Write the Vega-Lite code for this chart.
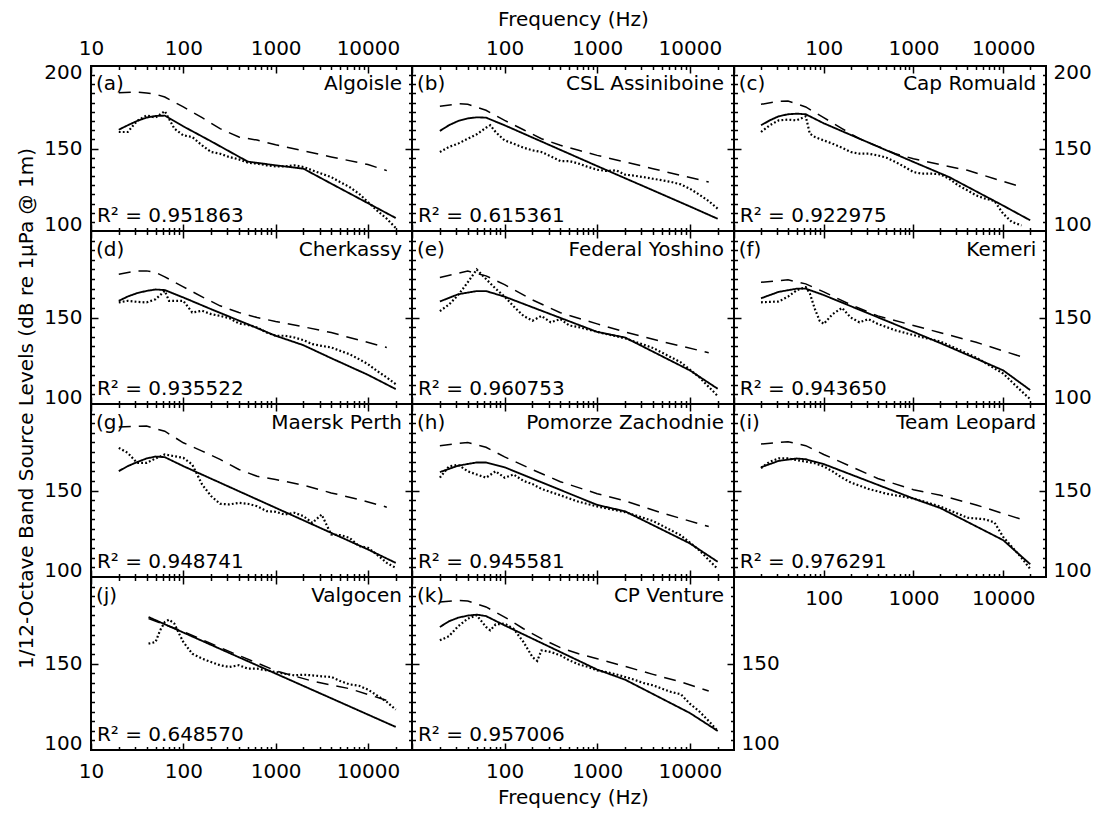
{
"$schema": "https://vega.github.io/schema/vega-lite/v6.json",
"background": "white",
"padding": {"left": 14, "top": 8, "right": 5, "bottom": 5},
"config": {
 "view": {"stroke": "black", "strokeWidth": 2},
 "axis": {"domain": false, "grid": false, "labelFont": "DejaVu Sans", "labelFontSize": 20, "labelColor": "black", "tickColor": "black", "tickWidth": 1.5, "titleFont": "DejaVu Sans", "titleFontSize": 20, "titleFontWeight": "normal", "titleColor": "black", "labelFlush": false, "labelOverlap": false, "labelBound": false},
 "text": {"font": "DejaVu Sans", "fontSize": 20, "color": "black"}
},
"datasets": {
 "info": [
  {"p":"a","tag":"(a)","name":"Algoisle","r2":"R² = 0.951863"},
  {"p":"b","tag":"(b)","name":"CSL Assiniboine","r2":"R² = 0.615361"},
  {"p":"c","tag":"(c)","name":"Cap Romuald","r2":"R² = 0.922975"},
  {"p":"d","tag":"(d)","name":"Cherkassy","r2":"R² = 0.935522"},
  {"p":"e","tag":"(e)","name":"Federal Yoshino","r2":"R² = 0.960753"},
  {"p":"f","tag":"(f)","name":"Kemeri","r2":"R² = 0.943650"},
  {"p":"g","tag":"(g)","name":"Maersk Perth","r2":"R² = 0.948741"},
  {"p":"h","tag":"(h)","name":"Pomorze Zachodnie","r2":"R² = 0.945581"},
  {"p":"i","tag":"(i)","name":"Team Leopard","r2":"R² = 0.976291"},
  {"p":"j","tag":"(j)","name":"Valgocen","r2":"R² = 0.648570"},
  {"p":"k","tag":"(k)","name":"CP Venture","r2":"R² = 0.957006"}
 ],
 "d": [
{"p":"a","s":"m","f":20,"L":160.8},{"p":"a","s":"m","f":25,"L":160.8},{"p":"a","s":"m","f":31.5,"L":168},{"p":"a","s":"m","f":40,"L":171.7},{"p":"a","s":"m","f":50,"L":170.2},{"p":"a","s":"m","f":63,"L":174.5},{"p":"a","s":"m","f":80,"L":163},{"p":"a","s":"m","f":100,"L":158.6},{"p":"a","s":"m","f":125,"L":157.5},{"p":"a","s":"m","f":160,"L":152},{"p":"a","s":"m","f":200,"L":147.7},{"p":"a","s":"m","f":250,"L":146.6},{"p":"a","s":"m","f":315,"L":144.4},{"p":"a","s":"m","f":400,"L":142.9},{"p":"a","s":"m","f":500,"L":140.7},{"p":"a","s":"m","f":630,"L":140.1},{"p":"a","s":"m","f":800,"L":139},{"p":"a","s":"m","f":1000,"L":138.3},{"p":"a","s":"m","f":1250,"L":138.3},{"p":"a","s":"m","f":1600,"L":139},{"p":"a","s":"m","f":2000,"L":137.9},{"p":"a","s":"m","f":2500,"L":135.7},{"p":"a","s":"m","f":3150,"L":133.5},{"p":"a","s":"m","f":4000,"L":131.3},{"p":"a","s":"m","f":5000,"L":128},{"p":"a","s":"m","f":6300,"L":124.8},{"p":"a","s":"m","f":8000,"L":120.4},{"p":"a","s":"m","f":10000,"L":115},{"p":"a","s":"m","f":12500,"L":109.5},{"p":"a","s":"m","f":16000,"L":104},{"p":"a","s":"m","f":20000,"L":98},
{"p":"a","s":"s","f":20,"L":162.3},{"p":"a","s":"s","f":25,"L":165.2},{"p":"a","s":"s","f":31.5,"L":168},{"p":"a","s":"s","f":40,"L":170.2},{"p":"a","s":"s","f":50,"L":171.3},{"p":"a","s":"s","f":63,"L":171.5},{"p":"a","s":"s","f":100,"L":164.5},{"p":"a","s":"s","f":200,"L":154.7},{"p":"a","s":"s","f":500,"L":141.4},{"p":"a","s":"s","f":1000,"L":139},{"p":"a","s":"s","f":2000,"L":136.8},{"p":"a","s":"s","f":4000,"L":127},{"p":"a","s":"s","f":10000,"L":114.2},{"p":"a","s":"s","f":20000,"L":104.5},
{"p":"a","s":"d","f":20,"L":186.5},{"p":"a","s":"d","f":31.5,"L":187},{"p":"a","s":"d","f":40,"L":186.3},{"p":"a","s":"d","f":50,"L":185.5},{"p":"a","s":"d","f":63,"L":183.7},{"p":"a","s":"d","f":100,"L":177.2},{"p":"a","s":"d","f":160,"L":170.2},{"p":"a","s":"d","f":250,"L":163},{"p":"a","s":"d","f":400,"L":157.5},{"p":"a","s":"d","f":630,"L":155.5},{"p":"a","s":"d","f":1000,"L":152.5},{"p":"a","s":"d","f":2000,"L":148.5},{"p":"a","s":"d","f":4000,"L":144.5},{"p":"a","s":"d","f":10000,"L":139.5},{"p":"a","s":"d","f":16000,"L":135.5},
{"p":"b","s":"m","f":20,"L":147.7},{"p":"b","s":"m","f":25,"L":151},{"p":"b","s":"m","f":31.5,"L":153.2},{"p":"b","s":"m","f":40,"L":156.4},{"p":"b","s":"m","f":50,"L":159.3},{"p":"b","s":"m","f":63,"L":163.6},{"p":"b","s":"m","f":70,"L":165.2},{"p":"b","s":"m","f":80,"L":160.8},{"p":"b","s":"m","f":100,"L":155.3},{"p":"b","s":"m","f":125,"L":153.2},{"p":"b","s":"m","f":160,"L":150.5},{"p":"b","s":"m","f":200,"L":148.8},{"p":"b","s":"m","f":250,"L":147.7},{"p":"b","s":"m","f":315,"L":144.9},{"p":"b","s":"m","f":400,"L":141.8},{"p":"b","s":"m","f":500,"L":141.8},{"p":"b","s":"m","f":630,"L":140.1},{"p":"b","s":"m","f":800,"L":137.9},{"p":"b","s":"m","f":1000,"L":136.1},{"p":"b","s":"m","f":1250,"L":135.3},{"p":"b","s":"m","f":1600,"L":135.7},{"p":"b","s":"m","f":2000,"L":132.9},{"p":"b","s":"m","f":2500,"L":132.2},{"p":"b","s":"m","f":3150,"L":131.3},{"p":"b","s":"m","f":4000,"L":130.2},{"p":"b","s":"m","f":5000,"L":129.2},{"p":"b","s":"m","f":6300,"L":128.1},{"p":"b","s":"m","f":8000,"L":126.5},{"p":"b","s":"m","f":10000,"L":123.7},{"p":"b","s":"m","f":12500,"L":120},{"p":"b","s":"m","f":16000,"L":115.6},{"p":"b","s":"m","f":20000,"L":110.6},
{"p":"b","s":"s","f":20,"L":161.5},{"p":"b","s":"s","f":25,"L":165.2},{"p":"b","s":"s","f":31.5,"L":168},{"p":"b","s":"s","f":40,"L":169.7},{"p":"b","s":"s","f":50,"L":170.4},{"p":"b","s":"s","f":63,"L":170.2},{"p":"b","s":"s","f":100,"L":165.2},{"p":"b","s":"s","f":1000,"L":138.5},{"p":"b","s":"s","f":10000,"L":112.1},{"p":"b","s":"s","f":20000,"L":104},
{"p":"b","s":"d","f":20,"L":177.6},{"p":"b","s":"d","f":31.5,"L":179.3},{"p":"b","s":"d","f":40,"L":178.9},{"p":"b","s":"d","f":63,"L":175},{"p":"b","s":"d","f":100,"L":168.4},{"p":"b","s":"d","f":160,"L":162.3},{"p":"b","s":"d","f":250,"L":156.4},{"p":"b","s":"d","f":400,"L":152.1},{"p":"b","s":"d","f":630,"L":148.8},{"p":"b","s":"d","f":1000,"L":145.5},{"p":"b","s":"d","f":2000,"L":141.2},{"p":"b","s":"d","f":4000,"L":136.8},{"p":"b","s":"d","f":8000,"L":132.4},{"p":"b","s":"d","f":16000,"L":128.1},
{"p":"c","s":"m","f":20,"L":160.8},{"p":"c","s":"m","f":25,"L":165.2},{"p":"c","s":"m","f":31.5,"L":168.4},{"p":"c","s":"m","f":40,"L":168.9},{"p":"c","s":"m","f":50,"L":168.4},{"p":"c","s":"m","f":63,"L":171.1},{"p":"c","s":"m","f":70,"L":159.7},{"p":"c","s":"m","f":80,"L":157.5},{"p":"c","s":"m","f":100,"L":155.3},{"p":"c","s":"m","f":125,"L":153.2},{"p":"c","s":"m","f":160,"L":150.5},{"p":"c","s":"m","f":200,"L":147.7},{"p":"c","s":"m","f":250,"L":146.6},{"p":"c","s":"m","f":315,"L":146.6},{"p":"c","s":"m","f":400,"L":145.5},{"p":"c","s":"m","f":500,"L":144},{"p":"c","s":"m","f":630,"L":141.2},{"p":"c","s":"m","f":800,"L":137.9},{"p":"c","s":"m","f":1000,"L":134.6},{"p":"c","s":"m","f":1250,"L":133.5},{"p":"c","s":"m","f":1600,"L":133.5},{"p":"c","s":"m","f":2000,"L":133.1},{"p":"c","s":"m","f":2500,"L":130.2},{"p":"c","s":"m","f":3150,"L":125.9},{"p":"c","s":"m","f":4000,"L":122.6},{"p":"c","s":"m","f":5000,"L":119.3},{"p":"c","s":"m","f":6300,"L":117.2},{"p":"c","s":"m","f":8000,"L":115.6},{"p":"c","s":"m","f":10000,"L":107.3},{"p":"c","s":"m","f":12500,"L":101.9},{"p":"c","s":"m","f":16000,"L":99.7},
{"p":"c","s":"s","f":20,"L":165.2},{"p":"c","s":"s","f":25,"L":168.4},{"p":"c","s":"s","f":31.5,"L":171.1},{"p":"c","s":"s","f":40,"L":172.4},{"p":"c","s":"s","f":50,"L":172.8},{"p":"c","s":"s","f":63,"L":172.4},{"p":"c","s":"s","f":100,"L":166.5},{"p":"c","s":"s","f":1000,"L":141.2},{"p":"c","s":"s","f":2500,"L":131.3},{"p":"c","s":"s","f":10000,"L":112.6},{"p":"c","s":"s","f":20000,"L":103},
{"p":"c","s":"d","f":20,"L":178.9},{"p":"c","s":"d","f":31.5,"L":180.9},{"p":"c","s":"d","f":40,"L":181.1},{"p":"c","s":"d","f":63,"L":177.2},{"p":"c","s":"d","f":100,"L":170.2},{"p":"c","s":"d","f":160,"L":163},{"p":"c","s":"d","f":250,"L":156.4},{"p":"c","s":"d","f":400,"L":151.4},{"p":"c","s":"d","f":630,"L":146.6},{"p":"c","s":"d","f":1000,"L":143.3},{"p":"c","s":"d","f":2000,"L":139.4},{"p":"c","s":"d","f":4000,"L":135.7},{"p":"c","s":"d","f":8000,"L":130.2},{"p":"c","s":"d","f":16000,"L":124.8},
{"p":"d","s":"m","f":20,"L":159.4},{"p":"d","s":"m","f":25,"L":160.4},{"p":"d","s":"m","f":31.5,"L":159.8},{"p":"d","s":"m","f":40,"L":159.4},{"p":"d","s":"m","f":50,"L":161.4},{"p":"d","s":"m","f":63,"L":166.6},{"p":"d","s":"m","f":70,"L":160.4},{"p":"d","s":"m","f":80,"L":160.4},{"p":"d","s":"m","f":100,"L":160.4},{"p":"d","s":"m","f":125,"L":153.1},{"p":"d","s":"m","f":160,"L":154.2},{"p":"d","s":"m","f":200,"L":152.1},{"p":"d","s":"m","f":250,"L":151},{"p":"d","s":"m","f":315,"L":149.6},{"p":"d","s":"m","f":400,"L":146.3},{"p":"d","s":"m","f":500,"L":145.4},{"p":"d","s":"m","f":630,"L":143.8},{"p":"d","s":"m","f":800,"L":140.6},{"p":"d","s":"m","f":1000,"L":138.6},{"p":"d","s":"m","f":1250,"L":138.6},{"p":"d","s":"m","f":1600,"L":137.5},{"p":"d","s":"m","f":2000,"L":135.9},{"p":"d","s":"m","f":2500,"L":133.4},{"p":"d","s":"m","f":3150,"L":132.3},{"p":"d","s":"m","f":4000,"L":131.3},{"p":"d","s":"m","f":5000,"L":129.2},{"p":"d","s":"m","f":6300,"L":127.1},{"p":"d","s":"m","f":8000,"L":124},{"p":"d","s":"m","f":10000,"L":120.9},{"p":"d","s":"m","f":12500,"L":116.7},{"p":"d","s":"m","f":16000,"L":112.5},{"p":"d","s":"m","f":20000,"L":108.4},
{"p":"d","s":"s","f":20,"L":160.4},{"p":"d","s":"s","f":25,"L":163.1},{"p":"d","s":"s","f":31.5,"L":165.2},{"p":"d","s":"s","f":40,"L":166.6},{"p":"d","s":"s","f":50,"L":167.5},{"p":"d","s":"s","f":63,"L":167.1},{"p":"d","s":"s","f":100,"L":162.5},{"p":"d","s":"s","f":200,"L":155.2},{"p":"d","s":"s","f":500,"L":145.8},{"p":"d","s":"s","f":1000,"L":138.6},{"p":"d","s":"s","f":2000,"L":132.7},{"p":"d","s":"s","f":4000,"L":124.6},{"p":"d","s":"s","f":10000,"L":114.2},{"p":"d","s":"s","f":20000,"L":105.3},
{"p":"d","s":"d","f":20,"L":177},{"p":"d","s":"d","f":31.5,"L":179.1},{"p":"d","s":"d","f":40,"L":179.1},{"p":"d","s":"d","f":50,"L":178.1},{"p":"d","s":"d","f":63,"L":175.4},{"p":"d","s":"d","f":100,"L":169.1},{"p":"d","s":"d","f":160,"L":162.9},{"p":"d","s":"d","f":250,"L":157.3},{"p":"d","s":"d","f":400,"L":153.1},{"p":"d","s":"d","f":630,"L":150},{"p":"d","s":"d","f":1000,"L":147.5},{"p":"d","s":"d","f":2000,"L":144.2},{"p":"d","s":"d","f":4000,"L":140.6},{"p":"d","s":"d","f":8000,"L":135.9},{"p":"d","s":"d","f":16000,"L":131.3},
{"p":"e","s":"m","f":20,"L":154},{"p":"e","s":"m","f":25,"L":158},{"p":"e","s":"m","f":31.5,"L":164},{"p":"e","s":"m","f":40,"L":172},{"p":"e","s":"m","f":50,"L":180},{"p":"e","s":"m","f":63,"L":174},{"p":"e","s":"m","f":80,"L":168},{"p":"e","s":"m","f":100,"L":163},{"p":"e","s":"m","f":125,"L":157},{"p":"e","s":"m","f":160,"L":151},{"p":"e","s":"m","f":200,"L":148},{"p":"e","s":"m","f":250,"L":151},{"p":"e","s":"m","f":315,"L":147},{"p":"e","s":"m","f":400,"L":149},{"p":"e","s":"m","f":500,"L":145},{"p":"e","s":"m","f":630,"L":144},{"p":"e","s":"m","f":1000,"L":141},{"p":"e","s":"m","f":2000,"L":137},{"p":"e","s":"m","f":4000,"L":131},{"p":"e","s":"m","f":8000,"L":122},{"p":"e","s":"m","f":12500,"L":113},{"p":"e","s":"m","f":20000,"L":101},
{"p":"e","s":"s","f":20,"L":160},{"p":"e","s":"s","f":31.5,"L":164.5},{"p":"e","s":"s","f":50,"L":166.5},{"p":"e","s":"s","f":63,"L":166.5},{"p":"e","s":"s","f":100,"L":163},{"p":"e","s":"s","f":1000,"L":141},{"p":"e","s":"s","f":2000,"L":137.5},{"p":"e","s":"s","f":10000,"L":117},{"p":"e","s":"s","f":20000,"L":105.5},
{"p":"e","s":"d","f":20,"L":175},{"p":"e","s":"d","f":40,"L":179},{"p":"e","s":"d","f":63,"L":176},{"p":"e","s":"d","f":100,"L":170.5},{"p":"e","s":"d","f":200,"L":161},{"p":"e","s":"d","f":400,"L":153},{"p":"e","s":"d","f":1000,"L":146},{"p":"e","s":"d","f":2000,"L":141},{"p":"e","s":"d","f":5000,"L":135},{"p":"e","s":"d","f":16000,"L":128},
{"p":"f","s":"m","f":20,"L":159.5},{"p":"f","s":"m","f":31.5,"L":160},{"p":"f","s":"m","f":40,"L":163},{"p":"f","s":"m","f":50,"L":167},{"p":"f","s":"m","f":63,"L":169},{"p":"f","s":"m","f":70,"L":165},{"p":"f","s":"m","f":80,"L":155},{"p":"f","s":"m","f":90,"L":148},{"p":"f","s":"m","f":100,"L":146},{"p":"f","s":"m","f":125,"L":152},{"p":"f","s":"m","f":160,"L":156},{"p":"f","s":"m","f":200,"L":150},{"p":"f","s":"m","f":250,"L":147},{"p":"f","s":"m","f":315,"L":149},{"p":"f","s":"m","f":400,"L":146},{"p":"f","s":"m","f":630,"L":142},{"p":"f","s":"m","f":1000,"L":139},{"p":"f","s":"m","f":2000,"L":135},{"p":"f","s":"m","f":5000,"L":125},{"p":"f","s":"m","f":10000,"L":115},{"p":"f","s":"m","f":16000,"L":104},{"p":"f","s":"m","f":20000,"L":99},
{"p":"f","s":"s","f":20,"L":162},{"p":"f","s":"s","f":31.5,"L":166},{"p":"f","s":"s","f":50,"L":168},{"p":"f","s":"s","f":63,"L":168},{"p":"f","s":"s","f":100,"L":164},{"p":"f","s":"s","f":1000,"L":141},{"p":"f","s":"s","f":2000,"L":134},{"p":"f","s":"s","f":10000,"L":117},{"p":"f","s":"s","f":20000,"L":104.7},
{"p":"f","s":"d","f":20,"L":172},{"p":"f","s":"d","f":40,"L":173.5},{"p":"f","s":"d","f":63,"L":171},{"p":"f","s":"d","f":100,"L":166},{"p":"f","s":"d","f":200,"L":158},{"p":"f","s":"d","f":400,"L":151},{"p":"f","s":"d","f":1000,"L":145},{"p":"f","s":"d","f":2000,"L":140.5},{"p":"f","s":"d","f":5000,"L":134.5},{"p":"f","s":"d","f":16000,"L":125.5},
{"p":"g","s":"m","f":20,"L":176.6},{"p":"g","s":"m","f":25,"L":173.5},{"p":"g","s":"m","f":31.5,"L":167.3},{"p":"g","s":"m","f":40,"L":167.3},{"p":"g","s":"m","f":50,"L":170},{"p":"g","s":"m","f":63,"L":172.5},{"p":"g","s":"m","f":80,"L":171.4},{"p":"g","s":"m","f":100,"L":170.4},{"p":"g","s":"m","f":125,"L":166.2},{"p":"g","s":"m","f":160,"L":153.7},{"p":"g","s":"m","f":200,"L":146.5},{"p":"g","s":"m","f":250,"L":141.7},{"p":"g","s":"m","f":315,"L":141.3},{"p":"g","s":"m","f":400,"L":142.3},{"p":"g","s":"m","f":500,"L":141.7},{"p":"g","s":"m","f":630,"L":140.2},{"p":"g","s":"m","f":800,"L":137.1},{"p":"g","s":"m","f":1000,"L":136.7},{"p":"g","s":"m","f":1250,"L":135},{"p":"g","s":"m","f":1600,"L":136.1},{"p":"g","s":"m","f":2000,"L":134},{"p":"g","s":"m","f":2500,"L":129.8},{"p":"g","s":"m","f":3150,"L":135},{"p":"g","s":"m","f":4000,"L":122.5},{"p":"g","s":"m","f":5000,"L":122.1},{"p":"g","s":"m","f":6300,"L":120.5},{"p":"g","s":"m","f":8000,"L":115.3},{"p":"g","s":"m","f":10000,"L":114.2},{"p":"g","s":"m","f":12500,"L":110},{"p":"g","s":"m","f":16000,"L":104.8},{"p":"g","s":"m","f":20000,"L":101.7},
{"p":"g","s":"s","f":20,"L":162.1},{"p":"g","s":"s","f":25,"L":165.2},{"p":"g","s":"s","f":31.5,"L":167.7},{"p":"g","s":"s","f":40,"L":170},{"p":"g","s":"s","f":50,"L":171.2},{"p":"g","s":"s","f":63,"L":170.8},{"p":"g","s":"s","f":100,"L":165.2},{"p":"g","s":"s","f":1000,"L":139.2},{"p":"g","s":"s","f":10000,"L":113.2},{"p":"g","s":"s","f":20000,"L":104.8},
{"p":"g","s":"d","f":20,"L":189.7},{"p":"g","s":"d","f":40,"L":190.2},{"p":"g","s":"d","f":63,"L":187},{"p":"g","s":"d","f":100,"L":179.8},{"p":"g","s":"d","f":160,"L":174.6},{"p":"g","s":"d","f":250,"L":169.4},{"p":"g","s":"d","f":400,"L":163.1},{"p":"g","s":"d","f":630,"L":158.9},{"p":"g","s":"d","f":1000,"L":156.9},{"p":"g","s":"d","f":2000,"L":153.3},{"p":"g","s":"d","f":4000,"L":148.5},{"p":"g","s":"d","f":8000,"L":144.4},{"p":"g","s":"d","f":16000,"L":139.6},
{"p":"h","s":"m","f":20,"L":158},{"p":"h","s":"m","f":25,"L":165},{"p":"h","s":"m","f":31.5,"L":166},{"p":"h","s":"m","f":40,"L":162},{"p":"h","s":"m","f":50,"L":160},{"p":"h","s":"m","f":63,"L":158},{"p":"h","s":"m","f":80,"L":162},{"p":"h","s":"m","f":100,"L":158},{"p":"h","s":"m","f":125,"L":160},{"p":"h","s":"m","f":160,"L":156},{"p":"h","s":"m","f":200,"L":154},{"p":"h","s":"m","f":250,"L":151},{"p":"h","s":"m","f":315,"L":149},{"p":"h","s":"m","f":400,"L":147},{"p":"h","s":"m","f":630,"L":143},{"p":"h","s":"m","f":1000,"L":140},{"p":"h","s":"m","f":2000,"L":136.5},{"p":"h","s":"m","f":4000,"L":131},{"p":"h","s":"m","f":8000,"L":122},{"p":"h","s":"m","f":12500,"L":113},{"p":"h","s":"m","f":20000,"L":101},
{"p":"h","s":"s","f":20,"L":161.5},{"p":"h","s":"s","f":31.5,"L":165.5},{"p":"h","s":"s","f":50,"L":167.5},{"p":"h","s":"s","f":63,"L":167.5},{"p":"h","s":"s","f":100,"L":164.5},{"p":"h","s":"s","f":1000,"L":141},{"p":"h","s":"s","f":2000,"L":137},{"p":"h","s":"s","f":10000,"L":117},{"p":"h","s":"s","f":20000,"L":105.5},
{"p":"h","s":"d","f":20,"L":178},{"p":"h","s":"d","f":40,"L":180},{"p":"h","s":"d","f":63,"L":177},{"p":"h","s":"d","f":100,"L":171},{"p":"h","s":"d","f":200,"L":163},{"p":"h","s":"d","f":400,"L":155.5},{"p":"h","s":"d","f":1000,"L":148},{"p":"h","s":"d","f":2000,"L":143.5},{"p":"h","s":"d","f":5000,"L":136},{"p":"h","s":"d","f":16000,"L":127.5},
{"p":"i","s":"m","f":20,"L":164},{"p":"i","s":"m","f":25,"L":168},{"p":"i","s":"m","f":31.5,"L":170},{"p":"i","s":"m","f":40,"L":170},{"p":"i","s":"m","f":50,"L":169},{"p":"i","s":"m","f":63,"L":168},{"p":"i","s":"m","f":80,"L":167},{"p":"i","s":"m","f":100,"L":165},{"p":"i","s":"m","f":125,"L":162},{"p":"i","s":"m","f":160,"L":158},{"p":"i","s":"m","f":200,"L":155},{"p":"i","s":"m","f":315,"L":151},{"p":"i","s":"m","f":500,"L":148},{"p":"i","s":"m","f":1000,"L":145},{"p":"i","s":"m","f":2000,"L":140},{"p":"i","s":"m","f":4000,"L":133},{"p":"i","s":"m","f":6300,"L":132},{"p":"i","s":"m","f":8000,"L":130},{"p":"i","s":"m","f":10000,"L":121},{"p":"i","s":"m","f":16000,"L":108},{"p":"i","s":"m","f":20000,"L":101},
{"p":"i","s":"s","f":20,"L":164.5},{"p":"i","s":"s","f":31.5,"L":168.5},{"p":"i","s":"s","f":50,"L":170},{"p":"i","s":"s","f":63,"L":169.5},{"p":"i","s":"s","f":100,"L":166.5},{"p":"i","s":"s","f":1000,"L":145},{"p":"i","s":"s","f":2000,"L":139},{"p":"i","s":"s","f":10000,"L":119},{"p":"i","s":"s","f":20000,"L":104},
{"p":"i","s":"d","f":20,"L":179},{"p":"i","s":"d","f":40,"L":180.5},{"p":"i","s":"d","f":63,"L":178},{"p":"i","s":"d","f":100,"L":172.5},{"p":"i","s":"d","f":200,"L":165},{"p":"i","s":"d","f":400,"L":157.5},{"p":"i","s":"d","f":1000,"L":150.5},{"p":"i","s":"d","f":2000,"L":147},{"p":"i","s":"d","f":5000,"L":141},{"p":"i","s":"d","f":16000,"L":132},
{"p":"j","s":"m","f":42,"L":162.4},{"p":"j","s":"m","f":50,"L":163.4},{"p":"j","s":"m","f":56,"L":170.7},{"p":"j","s":"m","f":63,"L":175.9},{"p":"j","s":"m","f":70,"L":177.4},{"p":"j","s":"m","f":80,"L":174.9},{"p":"j","s":"m","f":90,"L":168.6},{"p":"j","s":"m","f":100,"L":163.4},{"p":"j","s":"m","f":125,"L":156.1},{"p":"j","s":"m","f":160,"L":153},{"p":"j","s":"m","f":200,"L":150.9},{"p":"j","s":"m","f":250,"L":148.9},{"p":"j","s":"m","f":315,"L":147.8},{"p":"j","s":"m","f":400,"L":148.9},{"p":"j","s":"m","f":500,"L":146.8},{"p":"j","s":"m","f":630,"L":146.8},{"p":"j","s":"m","f":800,"L":145.7},{"p":"j","s":"m","f":1000,"L":144.7},{"p":"j","s":"m","f":1250,"L":143.6},{"p":"j","s":"m","f":1600,"L":142.6},{"p":"j","s":"m","f":2000,"L":143},{"p":"j","s":"m","f":2500,"L":142.6},{"p":"j","s":"m","f":3150,"L":142},{"p":"j","s":"m","f":4000,"L":141.6},{"p":"j","s":"m","f":5000,"L":139.1},{"p":"j","s":"m","f":6300,"L":137},{"p":"j","s":"m","f":8000,"L":136.1},{"p":"j","s":"m","f":10000,"L":133.7},{"p":"j","s":"m","f":12500,"L":130.1},{"p":"j","s":"m","f":16000,"L":126},{"p":"j","s":"m","f":20000,"L":121.2},
{"p":"j","s":"s","f":42,"L":179},{"p":"j","s":"s","f":1000,"L":143.7},{"p":"j","s":"s","f":20000,"L":110.4},
{"p":"j","s":"d","f":42,"L":178},{"p":"j","s":"d","f":100,"L":170},{"p":"j","s":"d","f":300,"L":158},{"p":"j","s":"d","f":1000,"L":145.5},{"p":"j","s":"d","f":2500,"L":139},{"p":"j","s":"d","f":6300,"L":134.3},{"p":"j","s":"d","f":16000,"L":127},
{"p":"k","s":"m","f":20,"L":164.5},{"p":"k","s":"m","f":25,"L":167},{"p":"k","s":"m","f":31.5,"L":173.2},{"p":"k","s":"m","f":40,"L":178},{"p":"k","s":"m","f":50,"L":180.1},{"p":"k","s":"m","f":63,"L":172.8},{"p":"k","s":"m","f":70,"L":170.7},{"p":"k","s":"m","f":80,"L":174.4},{"p":"k","s":"m","f":100,"L":174.9},{"p":"k","s":"m","f":125,"L":171.7},{"p":"k","s":"m","f":160,"L":163.4},{"p":"k","s":"m","f":200,"L":154},{"p":"k","s":"m","f":225,"L":151.6},{"p":"k","s":"m","f":250,"L":158.2},{"p":"k","s":"m","f":315,"L":157.2},{"p":"k","s":"m","f":400,"L":155.1},{"p":"k","s":"m","f":500,"L":152},{"p":"k","s":"m","f":630,"L":149.5},{"p":"k","s":"m","f":800,"L":147.8},{"p":"k","s":"m","f":1000,"L":145.7},{"p":"k","s":"m","f":1250,"L":144.7},{"p":"k","s":"m","f":1600,"L":143.2},{"p":"k","s":"m","f":2000,"L":141.6},{"p":"k","s":"m","f":2500,"L":139.9},{"p":"k","s":"m","f":3150,"L":137.8},{"p":"k","s":"m","f":4000,"L":136.4},{"p":"k","s":"m","f":5000,"L":134.3},{"p":"k","s":"m","f":6300,"L":132.2},{"p":"k","s":"m","f":8000,"L":130.8},{"p":"k","s":"m","f":10000,"L":124.9},{"p":"k","s":"m","f":12500,"L":120.4},{"p":"k","s":"m","f":16000,"L":114.1},{"p":"k","s":"m","f":20000,"L":107.9},
{"p":"k","s":"s","f":20,"L":172.8},{"p":"k","s":"s","f":25,"L":176.3},{"p":"k","s":"s","f":31.5,"L":178.6},{"p":"k","s":"s","f":40,"L":179.9},{"p":"k","s":"s","f":50,"L":180.5},{"p":"k","s":"s","f":63,"L":179.6},{"p":"k","s":"s","f":100,"L":173.8},{"p":"k","s":"s","f":1000,"L":146.2},{"p":"k","s":"s","f":2000,"L":139.9},{"p":"k","s":"s","f":10000,"L":119.1},{"p":"k","s":"s","f":20000,"L":107.9},
{"p":"k","s":"d","f":20,"L":188.4},{"p":"k","s":"d","f":31.5,"L":189.4},{"p":"k","s":"d","f":40,"L":189},{"p":"k","s":"d","f":63,"L":185.3},{"p":"k","s":"d","f":100,"L":179},{"p":"k","s":"d","f":160,"L":171.7},{"p":"k","s":"d","f":250,"L":165.5},{"p":"k","s":"d","f":400,"L":159.9},{"p":"k","s":"d","f":630,"L":156.1},{"p":"k","s":"d","f":1000,"L":153},{"p":"k","s":"d","f":2000,"L":148.2},{"p":"k","s":"d","f":4000,"L":143.2},{"p":"k","s":"d","f":8000,"L":138.5},{"p":"k","s":"d","f":16000,"L":132.8}
 ]
},
"columns": 3,
"spacing": 0,
"bounds": "flush",
"concat": [
 {"width": 321, "height": 165, "layer": [
  {"data": {"name": "d"}, "transform": [{"filter": "datum.p=='a'"}], "mark": {"type": "line", "color": "black", "clip": true},
   "encoding": {
    "x": {"field": "f", "type": "quantitative", "scale": {"type": "log", "domain": [10, 30000], "nice": false}, "axis": {"orient": "bottom", "values": [10, 100, 1000, 10000], "tickSize": -7, "labels": false, "title": null}},
    "y": {"field": "L", "type": "quantitative", "scale": {"domain": [96, 204], "nice": false, "zero": false}, "axis": {"orient": "left", "values": [100, 150, 200], "tickSize": -7, "tickOpacity": {"condition": {"test": "datum.value==150", "value": 1}, "value": 0}, "format": "d", "labelPadding": 16, "title": null}},
    "strokeDash": {"field": "s", "type": "nominal", "scale": {"domain": ["m", "s", "d"], "range": [[1.8, 2.2], [1, 0], [12, 8]]}, "legend": null},
    "strokeWidth": {"field": "s", "type": "ordinal", "scale": {"domain": ["m", "s", "d"], "range": [2.2, 1.5, 2.8]}, "legend": null}}},
  {"data": {"name": "info"}, "transform": [{"filter": "datum.p=='a'"}], "mark": {"type": "text", "align": "left", "baseline": "middle"},
   "encoding": {"x": {"datum": 11.3, "type": "quantitative", "scale": {"type": "log", "domain": [10, 30000], "nice": false}, "axis": {"orient": "bottom", "values": [20,30,40,50,60,70,80,90,200,300,400,500,600,700,800,900,2000,3000,4000,5000,6000,7000,8000,9000,20000], "tickSize": -3.5, "labels": false, "title": null}},
    "y": {"datum": 192, "type": "quantitative", "scale": {"domain": [96, 204], "nice": false, "zero": false}, "axis": {"orient": "left", "values": [102,108,114,120,126,132,138,144,156,162,168,174,180,186,192,198], "tickSize": -3.5, "labels": false, "title": null}},
    "text": {"field": "tag"}}},
  {"data": {"name": "info"}, "transform": [{"filter": "datum.p=='a'"}], "mark": {"type": "text", "align": "right", "baseline": "middle"},
   "encoding": {"x": {"datum": 23400, "type": "quantitative", "scale": {"type": "log", "domain": [10, 30000], "nice": false}, "axis": {"orient": "top", "values": [10, 100, 1000, 10000], "tickSize": -7, "format": "d", "labelPadding": 15, "title": null}},
    "y": {"datum": 192, "type": "quantitative", "scale": {"domain": [96, 204], "nice": false, "zero": false}, "axis": {"orient": "right", "values": [150], "tickSize": -7, "labels": false, "title": null}},
    "text": {"field": "name"}}},
  {"data": {"name": "info"}, "transform": [{"filter": "datum.p=='a'"}], "mark": {"type": "text", "align": "left", "baseline": "middle"},
   "encoding": {"x": {"datum": 11.6, "type": "quantitative", "scale": {"type": "log", "domain": [10, 30000], "nice": false}, "axis": {"orient": "top", "values": [20,30,40,50,60,70,80,90,200,300,400,500,600,700,800,900,2000,3000,4000,5000,6000,7000,8000,9000,20000], "tickSize": -3.5, "labels": false, "title": null}},
    "y": {"datum": 105.5, "type": "quantitative", "scale": {"domain": [96, 204], "nice": false, "zero": false}, "axis": {"orient": "right", "values": [102,108,114,120,126,132,138,144,156,162,168,174,180,186,192,198], "tickSize": -3.5, "labels": false, "title": null}},
    "text": {"field": "r2"}}}
 ], "resolve": {"axis": {"x": "independent", "y": "independent"}}},
 {"width": 322, "height": 165, "layer": [
  {"data": {"name": "d"}, "transform": [{"filter": "datum.p=='b'"}], "mark": {"type": "line", "color": "black", "clip": true},
   "encoding": {
    "x": {"field": "f", "type": "quantitative", "scale": {"type": "log", "domain": [10, 30000], "nice": false}, "axis": {"orient": "bottom", "values": [10, 100, 1000, 10000], "tickSize": -7, "labels": false, "title": null}},
    "y": {"field": "L", "type": "quantitative", "scale": {"domain": [96, 204], "nice": false, "zero": false}, "axis": {"orient": "left", "values": [150], "tickSize": -7, "labels": false, "title": null}},
    "strokeDash": {"field": "s", "type": "nominal", "scale": {"domain": ["m", "s", "d"], "range": [[1.8, 2.2], [1, 0], [12, 8]]}, "legend": null},
    "strokeWidth": {"field": "s", "type": "ordinal", "scale": {"domain": ["m", "s", "d"], "range": [2.2, 1.5, 2.8]}, "legend": null}}},
  {"data": {"name": "info"}, "transform": [{"filter": "datum.p=='b'"}], "mark": {"type": "text", "align": "left", "baseline": "middle"},
   "encoding": {"x": {"datum": 11.3, "type": "quantitative", "scale": {"type": "log", "domain": [10, 30000], "nice": false}, "axis": {"orient": "bottom", "values": [20,30,40,50,60,70,80,90,200,300,400,500,600,700,800,900,2000,3000,4000,5000,6000,7000,8000,9000,20000], "tickSize": -3.5, "labels": false, "title": null}},
    "y": {"datum": 192, "type": "quantitative", "scale": {"domain": [96, 204], "nice": false, "zero": false}, "axis": {"orient": "left", "values": [102,108,114,120,126,132,138,144,156,162,168,174,180,186,192,198], "tickSize": -3.5, "labels": false, "title": null}},
    "text": {"field": "tag"}}},
  {"data": {"name": "info"}, "transform": [{"filter": "datum.p=='b'"}], "mark": {"type": "text", "align": "right", "baseline": "middle"},
   "encoding": {"x": {"datum": 23400, "type": "quantitative", "scale": {"type": "log", "domain": [10, 30000], "nice": false}, "axis": {"orient": "top", "values": [10, 100, 1000, 10000], "tickSize": -7, "format": "d", "labelPadding": 15, "labelExpr": "datum.value==10?'':datum.label", "title": "Frequency (Hz)", "titleX": 161, "titleY": -47, "titleBaseline": "middle"}},
    "y": {"datum": 192, "type": "quantitative", "scale": {"domain": [96, 204], "nice": false, "zero": false}, "axis": {"orient": "right", "values": [150], "tickSize": -7, "labels": false, "title": null}},
    "text": {"field": "name"}}},
  {"data": {"name": "info"}, "transform": [{"filter": "datum.p=='b'"}], "mark": {"type": "text", "align": "left", "baseline": "middle"},
   "encoding": {"x": {"datum": 11.6, "type": "quantitative", "scale": {"type": "log", "domain": [10, 30000], "nice": false}, "axis": {"orient": "top", "values": [20,30,40,50,60,70,80,90,200,300,400,500,600,700,800,900,2000,3000,4000,5000,6000,7000,8000,9000,20000], "tickSize": -3.5, "labels": false, "title": null}},
    "y": {"datum": 105.5, "type": "quantitative", "scale": {"domain": [96, 204], "nice": false, "zero": false}, "axis": {"orient": "right", "values": [102,108,114,120,126,132,138,144,156,162,168,174,180,186,192,198], "tickSize": -3.5, "labels": false, "title": null}},
    "text": {"field": "r2"}}}
 ], "resolve": {"axis": {"x": "independent", "y": "independent"}}},
 {"width": 312, "height": 165, "layer": [
  {"data": {"name": "d"}, "transform": [{"filter": "datum.p=='c'"}], "mark": {"type": "line", "color": "black", "clip": true},
   "encoding": {
    "x": {"field": "f", "type": "quantitative", "scale": {"type": "log", "domain": [10, 30000], "nice": false}, "axis": {"orient": "bottom", "values": [10, 100, 1000, 10000], "tickSize": -7, "labels": false, "title": null}},
    "y": {"field": "L", "type": "quantitative", "scale": {"domain": [96, 204], "nice": false, "zero": false}, "axis": {"orient": "left", "values": [150], "tickSize": -7, "labels": false, "title": null}},
    "strokeDash": {"field": "s", "type": "nominal", "scale": {"domain": ["m", "s", "d"], "range": [[1.8, 2.2], [1, 0], [12, 8]]}, "legend": null},
    "strokeWidth": {"field": "s", "type": "ordinal", "scale": {"domain": ["m", "s", "d"], "range": [2.2, 1.5, 2.8]}, "legend": null}}},
  {"data": {"name": "info"}, "transform": [{"filter": "datum.p=='c'"}], "mark": {"type": "text", "align": "left", "baseline": "middle"},
   "encoding": {"x": {"datum": 11.3, "type": "quantitative", "scale": {"type": "log", "domain": [10, 30000], "nice": false}, "axis": {"orient": "bottom", "values": [20,30,40,50,60,70,80,90,200,300,400,500,600,700,800,900,2000,3000,4000,5000,6000,7000,8000,9000,20000], "tickSize": -3.5, "labels": false, "title": null}},
    "y": {"datum": 192, "type": "quantitative", "scale": {"domain": [96, 204], "nice": false, "zero": false}, "axis": {"orient": "left", "values": [102,108,114,120,126,132,138,144,156,162,168,174,180,186,192,198], "tickSize": -3.5, "labels": false, "title": null}},
    "text": {"field": "tag"}}},
  {"data": {"name": "info"}, "transform": [{"filter": "datum.p=='c'"}], "mark": {"type": "text", "align": "right", "baseline": "middle"},
   "encoding": {"x": {"datum": 23400, "type": "quantitative", "scale": {"type": "log", "domain": [10, 30000], "nice": false}, "axis": {"orient": "top", "values": [10, 100, 1000, 10000], "tickSize": -7, "format": "d", "labelPadding": 15, "labelExpr": "datum.value==10?'':datum.label", "title": null}},
    "y": {"datum": 192, "type": "quantitative", "scale": {"domain": [96, 204], "nice": false, "zero": false}, "axis": {"orient": "right", "values": [100, 150, 200], "tickSize": -7, "tickOpacity": {"condition": {"test": "datum.value==150", "value": 1}, "value": 0}, "format": "d", "labelPadding": 14, "title": null}},
    "text": {"field": "name"}}},
  {"data": {"name": "info"}, "transform": [{"filter": "datum.p=='c'"}], "mark": {"type": "text", "align": "left", "baseline": "middle"},
   "encoding": {"x": {"datum": 11.6, "type": "quantitative", "scale": {"type": "log", "domain": [10, 30000], "nice": false}, "axis": {"orient": "top", "values": [20,30,40,50,60,70,80,90,200,300,400,500,600,700,800,900,2000,3000,4000,5000,6000,7000,8000,9000,20000], "tickSize": -3.5, "labels": false, "title": null}},
    "y": {"datum": 105.5, "type": "quantitative", "scale": {"domain": [96, 204], "nice": false, "zero": false}, "axis": {"orient": "right", "values": [102,108,114,120,126,132,138,144,156,162,168,174,180,186,192,198], "tickSize": -3.5, "labels": false, "title": null}},
    "text": {"field": "r2"}}}
 ], "resolve": {"axis": {"x": "independent", "y": "independent"}}},
 {"width": 321, "height": 173, "layer": [
  {"data": {"name": "d"}, "transform": [{"filter": "datum.p=='d'"}], "mark": {"type": "line", "color": "black", "clip": true},
   "encoding": {
    "x": {"field": "f", "type": "quantitative", "scale": {"type": "log", "domain": [10, 30000], "nice": false}, "axis": {"orient": "bottom", "values": [10, 100, 1000, 10000], "tickSize": -7, "labels": false, "title": null}},
    "y": {"field": "L", "type": "quantitative", "scale": {"domain": [96, 204], "nice": false, "zero": false}, "axis": {"orient": "left", "values": [100, 150], "tickSize": -7, "tickOpacity": {"condition": {"test": "datum.value==150", "value": 1}, "value": 0}, "format": "d", "labelPadding": 16, "title": "1/12-Octave Band Source Levels (dB re 1μPa @ 1m)", "titleX": -65, "titleY": 177, "titleBaseline": "middle", "titleAngle": -90}},
    "strokeDash": {"field": "s", "type": "nominal", "scale": {"domain": ["m", "s", "d"], "range": [[1.8, 2.2], [1, 0], [12, 8]]}, "legend": null},
    "strokeWidth": {"field": "s", "type": "ordinal", "scale": {"domain": ["m", "s", "d"], "range": [2.2, 1.5, 2.8]}, "legend": null}}},
  {"data": {"name": "info"}, "transform": [{"filter": "datum.p=='d'"}], "mark": {"type": "text", "align": "left", "baseline": "middle"},
   "encoding": {"x": {"datum": 11.3, "type": "quantitative", "scale": {"type": "log", "domain": [10, 30000], "nice": false}, "axis": {"orient": "bottom", "values": [20,30,40,50,60,70,80,90,200,300,400,500,600,700,800,900,2000,3000,4000,5000,6000,7000,8000,9000,20000], "tickSize": -3.5, "labels": false, "title": null}},
    "y": {"datum": 192, "type": "quantitative", "scale": {"domain": [96, 204], "nice": false, "zero": false}, "axis": {"orient": "left", "values": [102,108,114,120,126,132,138,144,156,162,168,174,180,186,192,198], "tickSize": -3.5, "labels": false, "title": null}},
    "text": {"field": "tag"}}},
  {"data": {"name": "info"}, "transform": [{"filter": "datum.p=='d'"}], "mark": {"type": "text", "align": "right", "baseline": "middle"},
   "encoding": {"x": {"datum": 23400, "type": "quantitative", "scale": {"type": "log", "domain": [10, 30000], "nice": false}, "axis": {"orient": "top", "values": [10, 100, 1000, 10000], "tickSize": -7, "labels": false, "title": null}},
    "y": {"datum": 192, "type": "quantitative", "scale": {"domain": [96, 204], "nice": false, "zero": false}, "axis": {"orient": "right", "values": [150], "tickSize": -7, "labels": false, "title": null}},
    "text": {"field": "name"}}},
  {"data": {"name": "info"}, "transform": [{"filter": "datum.p=='d'"}], "mark": {"type": "text", "align": "left", "baseline": "middle"},
   "encoding": {"x": {"datum": 11.6, "type": "quantitative", "scale": {"type": "log", "domain": [10, 30000], "nice": false}, "axis": {"orient": "top", "values": [20,30,40,50,60,70,80,90,200,300,400,500,600,700,800,900,2000,3000,4000,5000,6000,7000,8000,9000,20000], "tickSize": -3.5, "labels": false, "title": null}},
    "y": {"datum": 105.5, "type": "quantitative", "scale": {"domain": [96, 204], "nice": false, "zero": false}, "axis": {"orient": "right", "values": [102,108,114,120,126,132,138,144,156,162,168,174,180,186,192,198], "tickSize": -3.5, "labels": false, "title": null}},
    "text": {"field": "r2"}}}
 ], "resolve": {"axis": {"x": "independent", "y": "independent"}}},
 {"width": 322, "height": 173, "layer": [
  {"data": {"name": "d"}, "transform": [{"filter": "datum.p=='e'"}], "mark": {"type": "line", "color": "black", "clip": true},
   "encoding": {
    "x": {"field": "f", "type": "quantitative", "scale": {"type": "log", "domain": [10, 30000], "nice": false}, "axis": {"orient": "bottom", "values": [10, 100, 1000, 10000], "tickSize": -7, "labels": false, "title": null}},
    "y": {"field": "L", "type": "quantitative", "scale": {"domain": [96, 204], "nice": false, "zero": false}, "axis": {"orient": "left", "values": [150], "tickSize": -7, "labels": false, "title": null}},
    "strokeDash": {"field": "s", "type": "nominal", "scale": {"domain": ["m", "s", "d"], "range": [[1.8, 2.2], [1, 0], [12, 8]]}, "legend": null},
    "strokeWidth": {"field": "s", "type": "ordinal", "scale": {"domain": ["m", "s", "d"], "range": [2.2, 1.5, 2.8]}, "legend": null}}},
  {"data": {"name": "info"}, "transform": [{"filter": "datum.p=='e'"}], "mark": {"type": "text", "align": "left", "baseline": "middle"},
   "encoding": {"x": {"datum": 11.3, "type": "quantitative", "scale": {"type": "log", "domain": [10, 30000], "nice": false}, "axis": {"orient": "bottom", "values": [20,30,40,50,60,70,80,90,200,300,400,500,600,700,800,900,2000,3000,4000,5000,6000,7000,8000,9000,20000], "tickSize": -3.5, "labels": false, "title": null}},
    "y": {"datum": 192, "type": "quantitative", "scale": {"domain": [96, 204], "nice": false, "zero": false}, "axis": {"orient": "left", "values": [102,108,114,120,126,132,138,144,156,162,168,174,180,186,192,198], "tickSize": -3.5, "labels": false, "title": null}},
    "text": {"field": "tag"}}},
  {"data": {"name": "info"}, "transform": [{"filter": "datum.p=='e'"}], "mark": {"type": "text", "align": "right", "baseline": "middle"},
   "encoding": {"x": {"datum": 23400, "type": "quantitative", "scale": {"type": "log", "domain": [10, 30000], "nice": false}, "axis": {"orient": "top", "values": [10, 100, 1000, 10000], "tickSize": -7, "labels": false, "title": null}},
    "y": {"datum": 192, "type": "quantitative", "scale": {"domain": [96, 204], "nice": false, "zero": false}, "axis": {"orient": "right", "values": [150], "tickSize": -7, "labels": false, "title": null}},
    "text": {"field": "name"}}},
  {"data": {"name": "info"}, "transform": [{"filter": "datum.p=='e'"}], "mark": {"type": "text", "align": "left", "baseline": "middle"},
   "encoding": {"x": {"datum": 11.6, "type": "quantitative", "scale": {"type": "log", "domain": [10, 30000], "nice": false}, "axis": {"orient": "top", "values": [20,30,40,50,60,70,80,90,200,300,400,500,600,700,800,900,2000,3000,4000,5000,6000,7000,8000,9000,20000], "tickSize": -3.5, "labels": false, "title": null}},
    "y": {"datum": 105.5, "type": "quantitative", "scale": {"domain": [96, 204], "nice": false, "zero": false}, "axis": {"orient": "right", "values": [102,108,114,120,126,132,138,144,156,162,168,174,180,186,192,198], "tickSize": -3.5, "labels": false, "title": null}},
    "text": {"field": "r2"}}}
 ], "resolve": {"axis": {"x": "independent", "y": "independent"}}},
 {"width": 312, "height": 173, "layer": [
  {"data": {"name": "d"}, "transform": [{"filter": "datum.p=='f'"}], "mark": {"type": "line", "color": "black", "clip": true},
   "encoding": {
    "x": {"field": "f", "type": "quantitative", "scale": {"type": "log", "domain": [10, 30000], "nice": false}, "axis": {"orient": "bottom", "values": [10, 100, 1000, 10000], "tickSize": -7, "labels": false, "title": null}},
    "y": {"field": "L", "type": "quantitative", "scale": {"domain": [96, 204], "nice": false, "zero": false}, "axis": {"orient": "left", "values": [150], "tickSize": -7, "labels": false, "title": null}},
    "strokeDash": {"field": "s", "type": "nominal", "scale": {"domain": ["m", "s", "d"], "range": [[1.8, 2.2], [1, 0], [12, 8]]}, "legend": null},
    "strokeWidth": {"field": "s", "type": "ordinal", "scale": {"domain": ["m", "s", "d"], "range": [2.2, 1.5, 2.8]}, "legend": null}}},
  {"data": {"name": "info"}, "transform": [{"filter": "datum.p=='f'"}], "mark": {"type": "text", "align": "left", "baseline": "middle"},
   "encoding": {"x": {"datum": 11.3, "type": "quantitative", "scale": {"type": "log", "domain": [10, 30000], "nice": false}, "axis": {"orient": "bottom", "values": [20,30,40,50,60,70,80,90,200,300,400,500,600,700,800,900,2000,3000,4000,5000,6000,7000,8000,9000,20000], "tickSize": -3.5, "labels": false, "title": null}},
    "y": {"datum": 192, "type": "quantitative", "scale": {"domain": [96, 204], "nice": false, "zero": false}, "axis": {"orient": "left", "values": [102,108,114,120,126,132,138,144,156,162,168,174,180,186,192,198], "tickSize": -3.5, "labels": false, "title": null}},
    "text": {"field": "tag"}}},
  {"data": {"name": "info"}, "transform": [{"filter": "datum.p=='f'"}], "mark": {"type": "text", "align": "right", "baseline": "middle"},
   "encoding": {"x": {"datum": 23400, "type": "quantitative", "scale": {"type": "log", "domain": [10, 30000], "nice": false}, "axis": {"orient": "top", "values": [10, 100, 1000, 10000], "tickSize": -7, "labels": false, "title": null}},
    "y": {"datum": 192, "type": "quantitative", "scale": {"domain": [96, 204], "nice": false, "zero": false}, "axis": {"orient": "right", "values": [100, 150], "tickSize": -7, "tickOpacity": {"condition": {"test": "datum.value==150", "value": 1}, "value": 0}, "format": "d", "labelPadding": 14, "title": null}},
    "text": {"field": "name"}}},
  {"data": {"name": "info"}, "transform": [{"filter": "datum.p=='f'"}], "mark": {"type": "text", "align": "left", "baseline": "middle"},
   "encoding": {"x": {"datum": 11.6, "type": "quantitative", "scale": {"type": "log", "domain": [10, 30000], "nice": false}, "axis": {"orient": "top", "values": [20,30,40,50,60,70,80,90,200,300,400,500,600,700,800,900,2000,3000,4000,5000,6000,7000,8000,9000,20000], "tickSize": -3.5, "labels": false, "title": null}},
    "y": {"datum": 105.5, "type": "quantitative", "scale": {"domain": [96, 204], "nice": false, "zero": false}, "axis": {"orient": "right", "values": [102,108,114,120,126,132,138,144,156,162,168,174,180,186,192,198], "tickSize": -3.5, "labels": false, "title": null}},
    "text": {"field": "r2"}}}
 ], "resolve": {"axis": {"x": "independent", "y": "independent"}}},
 {"width": 321, "height": 173, "layer": [
  {"data": {"name": "d"}, "transform": [{"filter": "datum.p=='g'"}], "mark": {"type": "line", "color": "black", "clip": true},
   "encoding": {
    "x": {"field": "f", "type": "quantitative", "scale": {"type": "log", "domain": [10, 30000], "nice": false}, "axis": {"orient": "bottom", "values": [10, 100, 1000, 10000], "tickSize": -7, "labels": false, "title": null}},
    "y": {"field": "L", "type": "quantitative", "scale": {"domain": [96, 204], "nice": false, "zero": false}, "axis": {"orient": "left", "values": [100, 150], "tickSize": -7, "tickOpacity": {"condition": {"test": "datum.value==150", "value": 1}, "value": 0}, "format": "d", "labelPadding": 16, "title": null}},
    "strokeDash": {"field": "s", "type": "nominal", "scale": {"domain": ["m", "s", "d"], "range": [[1.8, 2.2], [1, 0], [12, 8]]}, "legend": null},
    "strokeWidth": {"field": "s", "type": "ordinal", "scale": {"domain": ["m", "s", "d"], "range": [2.2, 1.5, 2.8]}, "legend": null}}},
  {"data": {"name": "info"}, "transform": [{"filter": "datum.p=='g'"}], "mark": {"type": "text", "align": "left", "baseline": "middle"},
   "encoding": {"x": {"datum": 11.3, "type": "quantitative", "scale": {"type": "log", "domain": [10, 30000], "nice": false}, "axis": {"orient": "bottom", "values": [20,30,40,50,60,70,80,90,200,300,400,500,600,700,800,900,2000,3000,4000,5000,6000,7000,8000,9000,20000], "tickSize": -3.5, "labels": false, "title": null}},
    "y": {"datum": 192, "type": "quantitative", "scale": {"domain": [96, 204], "nice": false, "zero": false}, "axis": {"orient": "left", "values": [102,108,114,120,126,132,138,144,156,162,168,174,180,186,192,198], "tickSize": -3.5, "labels": false, "title": null}},
    "text": {"field": "tag"}}},
  {"data": {"name": "info"}, "transform": [{"filter": "datum.p=='g'"}], "mark": {"type": "text", "align": "right", "baseline": "middle"},
   "encoding": {"x": {"datum": 23400, "type": "quantitative", "scale": {"type": "log", "domain": [10, 30000], "nice": false}, "axis": {"orient": "top", "values": [10, 100, 1000, 10000], "tickSize": -7, "labels": false, "title": null}},
    "y": {"datum": 192, "type": "quantitative", "scale": {"domain": [96, 204], "nice": false, "zero": false}, "axis": {"orient": "right", "values": [150], "tickSize": -7, "labels": false, "title": null}},
    "text": {"field": "name"}}},
  {"data": {"name": "info"}, "transform": [{"filter": "datum.p=='g'"}], "mark": {"type": "text", "align": "left", "baseline": "middle"},
   "encoding": {"x": {"datum": 11.6, "type": "quantitative", "scale": {"type": "log", "domain": [10, 30000], "nice": false}, "axis": {"orient": "top", "values": [20,30,40,50,60,70,80,90,200,300,400,500,600,700,800,900,2000,3000,4000,5000,6000,7000,8000,9000,20000], "tickSize": -3.5, "labels": false, "title": null}},
    "y": {"datum": 105.5, "type": "quantitative", "scale": {"domain": [96, 204], "nice": false, "zero": false}, "axis": {"orient": "right", "values": [102,108,114,120,126,132,138,144,156,162,168,174,180,186,192,198], "tickSize": -3.5, "labels": false, "title": null}},
    "text": {"field": "r2"}}}
 ], "resolve": {"axis": {"x": "independent", "y": "independent"}}},
 {"width": 322, "height": 173, "layer": [
  {"data": {"name": "d"}, "transform": [{"filter": "datum.p=='h'"}], "mark": {"type": "line", "color": "black", "clip": true},
   "encoding": {
    "x": {"field": "f", "type": "quantitative", "scale": {"type": "log", "domain": [10, 30000], "nice": false}, "axis": {"orient": "bottom", "values": [10, 100, 1000, 10000], "tickSize": -7, "labels": false, "title": null}},
    "y": {"field": "L", "type": "quantitative", "scale": {"domain": [96, 204], "nice": false, "zero": false}, "axis": {"orient": "left", "values": [150], "tickSize": -7, "labels": false, "title": null}},
    "strokeDash": {"field": "s", "type": "nominal", "scale": {"domain": ["m", "s", "d"], "range": [[1.8, 2.2], [1, 0], [12, 8]]}, "legend": null},
    "strokeWidth": {"field": "s", "type": "ordinal", "scale": {"domain": ["m", "s", "d"], "range": [2.2, 1.5, 2.8]}, "legend": null}}},
  {"data": {"name": "info"}, "transform": [{"filter": "datum.p=='h'"}], "mark": {"type": "text", "align": "left", "baseline": "middle"},
   "encoding": {"x": {"datum": 11.3, "type": "quantitative", "scale": {"type": "log", "domain": [10, 30000], "nice": false}, "axis": {"orient": "bottom", "values": [20,30,40,50,60,70,80,90,200,300,400,500,600,700,800,900,2000,3000,4000,5000,6000,7000,8000,9000,20000], "tickSize": -3.5, "labels": false, "title": null}},
    "y": {"datum": 192, "type": "quantitative", "scale": {"domain": [96, 204], "nice": false, "zero": false}, "axis": {"orient": "left", "values": [102,108,114,120,126,132,138,144,156,162,168,174,180,186,192,198], "tickSize": -3.5, "labels": false, "title": null}},
    "text": {"field": "tag"}}},
  {"data": {"name": "info"}, "transform": [{"filter": "datum.p=='h'"}], "mark": {"type": "text", "align": "right", "baseline": "middle"},
   "encoding": {"x": {"datum": 23400, "type": "quantitative", "scale": {"type": "log", "domain": [10, 30000], "nice": false}, "axis": {"orient": "top", "values": [10, 100, 1000, 10000], "tickSize": -7, "labels": false, "title": null}},
    "y": {"datum": 192, "type": "quantitative", "scale": {"domain": [96, 204], "nice": false, "zero": false}, "axis": {"orient": "right", "values": [150], "tickSize": -7, "labels": false, "title": null}},
    "text": {"field": "name"}}},
  {"data": {"name": "info"}, "transform": [{"filter": "datum.p=='h'"}], "mark": {"type": "text", "align": "left", "baseline": "middle"},
   "encoding": {"x": {"datum": 11.6, "type": "quantitative", "scale": {"type": "log", "domain": [10, 30000], "nice": false}, "axis": {"orient": "top", "values": [20,30,40,50,60,70,80,90,200,300,400,500,600,700,800,900,2000,3000,4000,5000,6000,7000,8000,9000,20000], "tickSize": -3.5, "labels": false, "title": null}},
    "y": {"datum": 105.5, "type": "quantitative", "scale": {"domain": [96, 204], "nice": false, "zero": false}, "axis": {"orient": "right", "values": [102,108,114,120,126,132,138,144,156,162,168,174,180,186,192,198], "tickSize": -3.5, "labels": false, "title": null}},
    "text": {"field": "r2"}}}
 ], "resolve": {"axis": {"x": "independent", "y": "independent"}}},
 {"width": 312, "height": 173, "layer": [
  {"data": {"name": "d"}, "transform": [{"filter": "datum.p=='i'"}], "mark": {"type": "line", "color": "black", "clip": true},
   "encoding": {
    "x": {"field": "f", "type": "quantitative", "scale": {"type": "log", "domain": [10, 30000], "nice": false}, "axis": {"orient": "bottom", "values": [10, 100, 1000, 10000], "tickSize": -7, "format": "d", "labelPadding": 18, "labelExpr": "datum.value==10?'':datum.label", "title": null}},
    "y": {"field": "L", "type": "quantitative", "scale": {"domain": [96, 204], "nice": false, "zero": false}, "axis": {"orient": "left", "values": [150], "tickSize": -7, "labels": false, "title": null}},
    "strokeDash": {"field": "s", "type": "nominal", "scale": {"domain": ["m", "s", "d"], "range": [[1.8, 2.2], [1, 0], [12, 8]]}, "legend": null},
    "strokeWidth": {"field": "s", "type": "ordinal", "scale": {"domain": ["m", "s", "d"], "range": [2.2, 1.5, 2.8]}, "legend": null}}},
  {"data": {"name": "info"}, "transform": [{"filter": "datum.p=='i'"}], "mark": {"type": "text", "align": "left", "baseline": "middle"},
   "encoding": {"x": {"datum": 11.3, "type": "quantitative", "scale": {"type": "log", "domain": [10, 30000], "nice": false}, "axis": {"orient": "bottom", "values": [20,30,40,50,60,70,80,90,200,300,400,500,600,700,800,900,2000,3000,4000,5000,6000,7000,8000,9000,20000], "tickSize": -3.5, "labels": false, "title": null}},
    "y": {"datum": 192, "type": "quantitative", "scale": {"domain": [96, 204], "nice": false, "zero": false}, "axis": {"orient": "left", "values": [102,108,114,120,126,132,138,144,156,162,168,174,180,186,192,198], "tickSize": -3.5, "labels": false, "title": null}},
    "text": {"field": "tag"}}},
  {"data": {"name": "info"}, "transform": [{"filter": "datum.p=='i'"}], "mark": {"type": "text", "align": "right", "baseline": "middle"},
   "encoding": {"x": {"datum": 23400, "type": "quantitative", "scale": {"type": "log", "domain": [10, 30000], "nice": false}, "axis": {"orient": "top", "values": [10, 100, 1000, 10000], "tickSize": -7, "labels": false, "title": null}},
    "y": {"datum": 192, "type": "quantitative", "scale": {"domain": [96, 204], "nice": false, "zero": false}, "axis": {"orient": "right", "values": [100, 150], "tickSize": -7, "tickOpacity": {"condition": {"test": "datum.value==150", "value": 1}, "value": 0}, "format": "d", "labelPadding": 14, "title": null}},
    "text": {"field": "name"}}},
  {"data": {"name": "info"}, "transform": [{"filter": "datum.p=='i'"}], "mark": {"type": "text", "align": "left", "baseline": "middle"},
   "encoding": {"x": {"datum": 11.6, "type": "quantitative", "scale": {"type": "log", "domain": [10, 30000], "nice": false}, "axis": {"orient": "top", "values": [20,30,40,50,60,70,80,90,200,300,400,500,600,700,800,900,2000,3000,4000,5000,6000,7000,8000,9000,20000], "tickSize": -3.5, "labels": false, "title": null}},
    "y": {"datum": 105.5, "type": "quantitative", "scale": {"domain": [96, 204], "nice": false, "zero": false}, "axis": {"orient": "right", "values": [102,108,114,120,126,132,138,144,156,162,168,174,180,186,192,198], "tickSize": -3.5, "labels": false, "title": null}},
    "text": {"field": "r2"}}}
 ], "resolve": {"axis": {"x": "independent", "y": "independent"}}},
 {"width": 321, "height": 173, "layer": [
  {"data": {"name": "d"}, "transform": [{"filter": "datum.p=='j'"}], "mark": {"type": "line", "color": "black", "clip": true},
   "encoding": {
    "x": {"field": "f", "type": "quantitative", "scale": {"type": "log", "domain": [10, 30000], "nice": false}, "axis": {"orient": "bottom", "values": [10, 100, 1000, 10000], "tickSize": -7, "format": "d", "labelPadding": 18, "title": null}},
    "y": {"field": "L", "type": "quantitative", "scale": {"domain": [96, 204], "nice": false, "zero": false}, "axis": {"orient": "left", "values": [100, 150], "tickSize": -7, "tickOpacity": {"condition": {"test": "datum.value==150", "value": 1}, "value": 0}, "format": "d", "labelPadding": 16, "title": null}},
    "strokeDash": {"field": "s", "type": "nominal", "scale": {"domain": ["m", "s", "d"], "range": [[1.8, 2.2], [1, 0], [12, 8]]}, "legend": null},
    "strokeWidth": {"field": "s", "type": "ordinal", "scale": {"domain": ["m", "s", "d"], "range": [2.2, 1.5, 2.8]}, "legend": null}}},
  {"data": {"name": "info"}, "transform": [{"filter": "datum.p=='j'"}], "mark": {"type": "text", "align": "left", "baseline": "middle"},
   "encoding": {"x": {"datum": 11.3, "type": "quantitative", "scale": {"type": "log", "domain": [10, 30000], "nice": false}, "axis": {"orient": "bottom", "values": [20,30,40,50,60,70,80,90,200,300,400,500,600,700,800,900,2000,3000,4000,5000,6000,7000,8000,9000,20000], "tickSize": -3.5, "labels": false, "title": null}},
    "y": {"datum": 192, "type": "quantitative", "scale": {"domain": [96, 204], "nice": false, "zero": false}, "axis": {"orient": "left", "values": [102,108,114,120,126,132,138,144,156,162,168,174,180,186,192,198], "tickSize": -3.5, "labels": false, "title": null}},
    "text": {"field": "tag"}}},
  {"data": {"name": "info"}, "transform": [{"filter": "datum.p=='j'"}], "mark": {"type": "text", "align": "right", "baseline": "middle"},
   "encoding": {"x": {"datum": 23400, "type": "quantitative", "scale": {"type": "log", "domain": [10, 30000], "nice": false}, "axis": {"orient": "top", "values": [10, 100, 1000, 10000], "tickSize": -7, "labels": false, "title": null}},
    "y": {"datum": 192, "type": "quantitative", "scale": {"domain": [96, 204], "nice": false, "zero": false}, "axis": {"orient": "right", "values": [150], "tickSize": -7, "labels": false, "title": null}},
    "text": {"field": "name"}}},
  {"data": {"name": "info"}, "transform": [{"filter": "datum.p=='j'"}], "mark": {"type": "text", "align": "left", "baseline": "middle"},
   "encoding": {"x": {"datum": 11.6, "type": "quantitative", "scale": {"type": "log", "domain": [10, 30000], "nice": false}, "axis": {"orient": "top", "values": [20,30,40,50,60,70,80,90,200,300,400,500,600,700,800,900,2000,3000,4000,5000,6000,7000,8000,9000,20000], "tickSize": -3.5, "labels": false, "title": null}},
    "y": {"datum": 105.5, "type": "quantitative", "scale": {"domain": [96, 204], "nice": false, "zero": false}, "axis": {"orient": "right", "values": [102,108,114,120,126,132,138,144,156,162,168,174,180,186,192,198], "tickSize": -3.5, "labels": false, "title": null}},
    "text": {"field": "r2"}}}
 ], "resolve": {"axis": {"x": "independent", "y": "independent"}}},
 {"width": 322, "height": 173, "layer": [
  {"data": {"name": "d"}, "transform": [{"filter": "datum.p=='k'"}], "mark": {"type": "line", "color": "black", "clip": true},
   "encoding": {
    "x": {"field": "f", "type": "quantitative", "scale": {"type": "log", "domain": [10, 30000], "nice": false}, "axis": {"orient": "bottom", "values": [10, 100, 1000, 10000], "tickSize": -7, "format": "d", "labelPadding": 18, "labelExpr": "datum.value==10?'':datum.label", "title": "Frequency (Hz)", "titleX": 161, "titleY": 47.5, "titleBaseline": "middle"}},
    "y": {"field": "L", "type": "quantitative", "scale": {"domain": [96, 204], "nice": false, "zero": false}, "axis": {"orient": "left", "values": [150], "tickSize": -7, "labels": false, "title": null}},
    "strokeDash": {"field": "s", "type": "nominal", "scale": {"domain": ["m", "s", "d"], "range": [[1.8, 2.2], [1, 0], [12, 8]]}, "legend": null},
    "strokeWidth": {"field": "s", "type": "ordinal", "scale": {"domain": ["m", "s", "d"], "range": [2.2, 1.5, 2.8]}, "legend": null}}},
  {"data": {"name": "info"}, "transform": [{"filter": "datum.p=='k'"}], "mark": {"type": "text", "align": "left", "baseline": "middle"},
   "encoding": {"x": {"datum": 11.3, "type": "quantitative", "scale": {"type": "log", "domain": [10, 30000], "nice": false}, "axis": {"orient": "bottom", "values": [20,30,40,50,60,70,80,90,200,300,400,500,600,700,800,900,2000,3000,4000,5000,6000,7000,8000,9000,20000], "tickSize": -3.5, "labels": false, "title": null}},
    "y": {"datum": 192, "type": "quantitative", "scale": {"domain": [96, 204], "nice": false, "zero": false}, "axis": {"orient": "left", "values": [102,108,114,120,126,132,138,144,156,162,168,174,180,186,192,198], "tickSize": -3.5, "labels": false, "title": null}},
    "text": {"field": "tag"}}},
  {"data": {"name": "info"}, "transform": [{"filter": "datum.p=='k'"}], "mark": {"type": "text", "align": "right", "baseline": "middle"},
   "encoding": {"x": {"datum": 23400, "type": "quantitative", "scale": {"type": "log", "domain": [10, 30000], "nice": false}, "axis": {"orient": "top", "values": [10, 100, 1000, 10000], "tickSize": -7, "labels": false, "title": null}},
    "y": {"datum": 192, "type": "quantitative", "scale": {"domain": [96, 204], "nice": false, "zero": false}, "axis": {"orient": "right", "values": [100, 150], "tickSize": -7, "tickOpacity": {"condition": {"test": "datum.value==150", "value": 1}, "value": 0}, "format": "d", "labelPadding": 14, "title": null}},
    "text": {"field": "name"}}},
  {"data": {"name": "info"}, "transform": [{"filter": "datum.p=='k'"}], "mark": {"type": "text", "align": "left", "baseline": "middle"},
   "encoding": {"x": {"datum": 11.6, "type": "quantitative", "scale": {"type": "log", "domain": [10, 30000], "nice": false}, "axis": {"orient": "top", "values": [20,30,40,50,60,70,80,90,200,300,400,500,600,700,800,900,2000,3000,4000,5000,6000,7000,8000,9000,20000], "tickSize": -3.5, "labels": false, "title": null}},
    "y": {"datum": 105.5, "type": "quantitative", "scale": {"domain": [96, 204], "nice": false, "zero": false}, "axis": {"orient": "right", "values": [102,108,114,120,126,132,138,144,156,162,168,174,180,186,192,198], "tickSize": -3.5, "labels": false, "title": null}},
    "text": {"field": "r2"}}}
 ], "resolve": {"axis": {"x": "independent", "y": "independent"}}}
]
}
